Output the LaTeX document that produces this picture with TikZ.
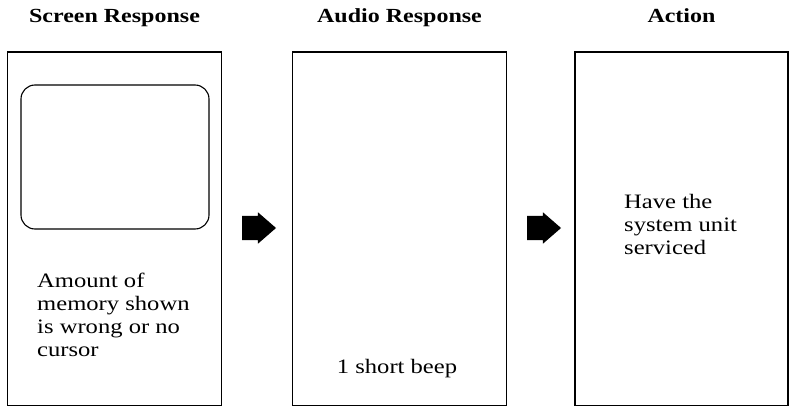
\documentclass[tikz,border=0pt]{standalone}
\usepackage{fontspec}
\setmainfont[FakeStretch=1.2]{Liberation Serif}
\usetikzlibrary{shapes.arrows,positioning}
\tikzset{
  panel/.style={draw,line width=1.6pt,minimum width=214pt,minimum height=353.5pt,inner sep=0pt},
  head/.style={font=\fontsize{20}{23}\selectfont\bfseries,inner sep=0pt,anchor=base},
  txt/.style={font=\fontsize{20.5}{23}\selectfont,align=left,inner sep=0pt},
  screen/.style={draw,line width=1.1pt,rounded corners=14pt,minimum width=188pt,minimum height=144pt,inner sep=0pt},
  blk/.style={single arrow,fill=black,draw=none,minimum height=34pt,inner xsep=0pt,inner ysep=12pt,single arrow head extend=3.5pt,single arrow tip angle=82},
}
\begin{document}
\begin{tikzpicture}[x=1pt,y=-1pt]
\useasboundingbox (0,0) rectangle (789,406);
% the three columns
\node[panel] (scr) at (114.5,228.75) {};
\node[panel] (aud) at (399.5,228.75) {};
\node[panel,minimum width=213pt] (act) at (681.5,228.75) {};
\node[head] (hscr) at (114.5,23) {Screen Response};
\node[head] (haud) at (399.5,23) {Audio Response};
\node[head] (hact) at (681.5,23) {Action};
% screen outline and texts (base = last line)
\node[screen] (crt) at (115,157) {};
\node[txt,anchor=base west] (mem) at (37,356) {Amount of\\memory shown\\is wrong or no\\cursor};
\node[txt,anchor=base] (beep) at (397,373) {1 short beep};
\node[txt,anchor=base west] (svc) at (624,254) {Have the\\system unit\\serviced};
% block arrows between the columns
\node[blk] (ar1) at (252,228) {};
\node[blk] (ar2) at (537,228) {};
\end{tikzpicture}
\end{document}
